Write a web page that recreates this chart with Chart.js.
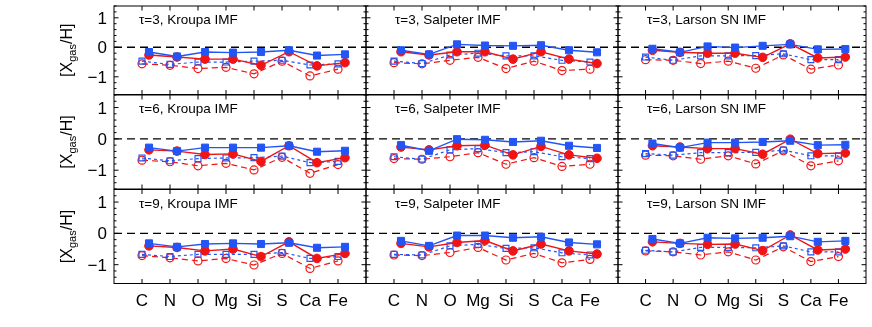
<!DOCTYPE html>
<html><head><meta charset="utf-8">
<script src="https://cdn.jsdelivr.net/npm/chart.js@4"></script>
<style>
html,body{margin:0;padding:0;background:#fff;}
#wrap{position:relative;width:872px;height:327px;overflow:hidden;background:#fff;}
canvas{position:absolute;left:0;top:0;}
</style></head><body><div id="wrap"></div>
<script>
// ---- data ----
const categories = ['C','N','O','Mg','Si','S','Ca','Fe'];
const yTickValues = [-1, 0, 1];
const yTickLabels = ['\u22121', '0', '1'];
const tauValues = [3, 6, 9];
const imfNames = ['Kroupa IMF', 'Salpeter IMF', 'Larson SN IMF'];

// tau = 3
const t3_kroupa_blueSolid   = [-0.16,-0.31,-0.16,-0.18,-0.16,-0.10,-0.28,-0.24];
const t3_kroupa_redSolid    = [-0.26,-0.33,-0.40,-0.40,-0.61,-0.15,-0.63,-0.52];
const t3_kroupa_blueDash    = [-0.47,-0.58,-0.50,-0.50,-0.47,-0.44,-0.60,-0.56];
const t3_kroupa_redDash     = [-0.56,-0.61,-0.72,-0.68,-0.90,-0.47,-0.97,-0.74];
const t3_salpeter_blueSolid = [-0.10,-0.24, 0.10, 0.06, 0.05, 0.07,-0.10,-0.17];
const t3_salpeter_redSolid  = [-0.15,-0.26,-0.15,-0.15,-0.40,-0.15,-0.40,-0.55];
const t3_salpeter_blueDash  = [-0.47,-0.55,-0.26,-0.20,-0.29,-0.29,-0.44,-0.50];
const t3_salpeter_redDash   = [-0.52,-0.56,-0.44,-0.34,-0.72,-0.47,-0.79,-0.74];
const t3_larson_blueSolid   = [-0.05,-0.17, 0.03,-0.01, 0.05, 0.10,-0.07,-0.06];
const t3_larson_redSolid    = [-0.10,-0.17,-0.20,-0.20,-0.34, 0.12,-0.36,-0.33];
const t3_larson_blueDash    = [-0.33,-0.44,-0.29,-0.29,-0.28,-0.22,-0.42,-0.42];
const t3_larson_redDash     = [-0.42,-0.44,-0.55,-0.47,-0.71,-0.26,-0.74,-0.60];
// tau = 6
const t6_kroupa_blueSolid   = [-0.28,-0.39,-0.28,-0.28,-0.28,-0.22,-0.41,-0.38];
const t6_kroupa_redSolid    = [-0.35,-0.39,-0.50,-0.48,-0.72,-0.22,-0.76,-0.60];
const t6_kroupa_blueDash    = [-0.61,-0.70,-0.63,-0.61,-0.60,-0.55,-0.76,-0.72];
const t6_kroupa_redDash     = [-0.68,-0.73,-0.86,-0.78,-0.99,-0.59,-1.10,-0.82];
const t6_salpeter_blueSolid = [-0.20,-0.38,-0.01,-0.03,-0.10,-0.06,-0.22,-0.29];
const t6_salpeter_redSolid  = [-0.26,-0.35,-0.22,-0.20,-0.51,-0.24,-0.51,-0.62];
const t6_salpeter_blueDash  = [-0.57,-0.65,-0.35,-0.31,-0.44,-0.41,-0.57,-0.63];
const t6_salpeter_redDash   = [-0.63,-0.65,-0.57,-0.44,-0.81,-0.60,-0.88,-0.81];
const t6_larson_blueSolid   = [-0.15,-0.28,-0.12,-0.12,-0.10,-0.06,-0.20,-0.19];
const t6_larson_redSolid    = [-0.22,-0.26,-0.31,-0.31,-0.49,-0.01,-0.47,-0.45];
const t6_larson_blueDash    = [-0.47,-0.52,-0.44,-0.44,-0.43,-0.36,-0.54,-0.54];
const t6_larson_redDash     = [-0.52,-0.54,-0.65,-0.54,-0.80,-0.38,-0.86,-0.70];
// tau = 9
const t9_kroupa_blueSolid   = [-0.32,-0.43,-0.34,-0.32,-0.34,-0.30,-0.46,-0.43];
const t9_kroupa_redSolid    = [-0.40,-0.45,-0.56,-0.50,-0.74,-0.27,-0.80,-0.64];
const t9_kroupa_blueDash    = [-0.67,-0.74,-0.67,-0.67,-0.67,-0.61,-0.80,-0.74];
const t9_kroupa_redDash     = [-0.71,-0.78,-0.88,-0.80,-1.01,-0.64,-1.12,-0.88];
const t9_salpeter_blueSolid = [-0.24,-0.40,-0.07,-0.07,-0.14,-0.11,-0.29,-0.35];
const t9_salpeter_redSolid  = [-0.32,-0.43,-0.29,-0.23,-0.56,-0.34,-0.56,-0.66];
const t9_salpeter_blueDash  = [-0.67,-0.69,-0.40,-0.35,-0.48,-0.46,-0.62,-0.69];
const t9_salpeter_redDash   = [-0.69,-0.71,-0.61,-0.45,-0.85,-0.64,-0.94,-0.83];
const t9_larson_blueSolid   = [-0.18,-0.32,-0.14,-0.16,-0.14,-0.09,-0.27,-0.24];
const t9_larson_redSolid    = [-0.27,-0.32,-0.35,-0.34,-0.55,-0.05,-0.53,-0.50];
const t9_larson_blueDash    = [-0.54,-0.59,-0.45,-0.45,-0.46,-0.40,-0.59,-0.59];
const t9_larson_redDash     = [-0.56,-0.59,-0.69,-0.59,-0.85,-0.43,-0.90,-0.74];

const panels = [
  [ [t3_kroupa_blueSolid, t3_kroupa_redSolid, t3_kroupa_blueDash, t3_kroupa_redDash],
    [t3_salpeter_blueSolid, t3_salpeter_redSolid, t3_salpeter_blueDash, t3_salpeter_redDash],
    [t3_larson_blueSolid, t3_larson_redSolid, t3_larson_blueDash, t3_larson_redDash] ],
  [ [t6_kroupa_blueSolid, t6_kroupa_redSolid, t6_kroupa_blueDash, t6_kroupa_redDash],
    [t6_salpeter_blueSolid, t6_salpeter_redSolid, t6_salpeter_blueDash, t6_salpeter_redDash],
    [t6_larson_blueSolid, t6_larson_redSolid, t6_larson_blueDash, t6_larson_redDash] ],
  [ [t9_kroupa_blueSolid, t9_kroupa_redSolid, t9_kroupa_blueDash, t9_kroupa_redDash],
    [t9_salpeter_blueSolid, t9_salpeter_redSolid, t9_salpeter_blueDash, t9_salpeter_redDash],
    [t9_larson_blueSolid, t9_larson_redSolid, t9_larson_blueDash, t9_larson_redDash] ]
];

// ---- layout / style ----
const W = 872, H = 327;
const colLefts = [114, 366, 618];
const colWidth = 252;
const rowTops = [0.5, 95, 189.5];
const rowHeight = 94;
const X_MIN = 0, X_MAX = 9, Y_MIN = -1.6, Y_MAX = 1.4;
const SOLID_SHIFT = 0.25;
const BLUE = 'rgb(35,85,245)';
const RED = 'rgb(240,20,20)';
const FONT = '"Liberation Sans", Arial, Helvetica, sans-serif';
const labelOffsets = [25, 29, 29];

function xy(vals, shift) {
  return vals.map((v, i) => ({ x: i + 1 + shift, y: v }));
}

function panelPlugin(r, c) {
  return {
    id: 'panelDeco' + r + c,
    beforeDatasetsDraw(chart) {
      const ctx = chart.ctx, xs = chart.scales.x, ys = chart.scales.y;
      const y0 = ys.getPixelForValue(0);
      ctx.save();
      ctx.strokeStyle = '#000';
      ctx.lineWidth = 1.4;
      ctx.setLineDash([8, 5]);
      ctx.beginPath();
      ctx.moveTo(xs.getPixelForValue(X_MIN), y0);
      ctx.lineTo(xs.getPixelForValue(X_MAX), y0);
      ctx.stroke();
      ctx.restore();
    },
    afterDraw(chart) {
      const ctx = chart.ctx, xs = chart.scales.x, ys = chart.scales.y;
      const L = xs.getPixelForValue(X_MIN), R = xs.getPixelForValue(X_MAX);
      const T = ys.getPixelForValue(Y_MAX), B = ys.getPixelForValue(Y_MIN);
      ctx.save();
      ctx.strokeStyle = '#000';
      ctx.lineWidth = 1;
      ctx.setLineDash([]);
      ctx.strokeRect(L, T, R - L, B - T);
      ctx.beginPath();
      // y ticks (minor every 0.2, major at integers)
      for (let k = -8; k <= 7; k++) {
        const v = k * 0.2;
        const py = ys.getPixelForValue(v);
        const major = (k % 5 === 0);
        const len = major ? 4.5 : 2.5;
        ctx.moveTo(L, py); ctx.lineTo(L + len, py);
        ctx.moveTo(R, py); ctx.lineTo(R - len, py);
      }
      // x ticks at categories
      categories.forEach((_, i) => {
        const px = xs.getPixelForValue(i + 1);
        ctx.moveTo(px, T); ctx.lineTo(px, T + 4.5);
        ctx.moveTo(px, B); ctx.lineTo(px, B - 4.5);
      });
      ctx.stroke();

      // panel label
      ctx.fillStyle = '#000';
      ctx.font = '13.5px ' + FONT;
      ctx.textAlign = 'left';
      ctx.textBaseline = 'alphabetic';
      ctx.fillText('\u03c4=' + tauValues[r] + ', ' + imfNames[c], L + labelOffsets[c], T + 18);

      // y tick labels + title on left column
      if (c === 0) {
        ctx.font = '17px ' + FONT;
        ctx.textAlign = 'right';
        yTickValues.forEach((v, i) => {
          ctx.fillText(yTickLabels[i], L - 7, ys.getPixelForValue(v) + 6);
        });
        // rotated title [X_gas/H]
        const cy = (T + B) / 2;
        ctx.save();
        ctx.translate(72, cy);
        ctx.rotate(-Math.PI / 2);
        ctx.textAlign = 'left';
        const big = '16px ' + FONT, small = '11px ' + FONT;
        ctx.font = big; const w1 = ctx.measureText('[X').width;
        ctx.font = small; const w2 = ctx.measureText('gas').width;
        ctx.font = big; const w3 = ctx.measureText('/H]').width;
        let x = -(w1 + w2 + w3) / 2;
        ctx.font = big; ctx.fillText('[X', x, 0); x += w1;
        ctx.font = small; ctx.fillText('gas', x, 4); x += w2;
        ctx.font = big; ctx.fillText('/H]', x, 0);
        ctx.restore();
      }
      // category labels on bottom row
      if (r === 2) {
        ctx.font = '17px ' + FONT;
        ctx.textAlign = 'center';
        categories.forEach((lab, i) => {
          ctx.fillText(lab, xs.getPixelForValue(i + 1), B + 22);
        });
      }
      ctx.restore();
    }
  };
}

const wrap = document.getElementById('wrap');
for (let r = 0; r < 3; r++) {
  for (let c = 0; c < 3; c++) {
    const [bS, rS, bD, rD] = panels[r][c];
    const cv = document.createElement('canvas');
    cv.width = W; cv.height = H;
    cv.style.width = W + 'px'; cv.style.height = H + 'px';
    wrap.appendChild(cv);
    const L = colLefts[c], T = rowTops[r];
    new Chart(cv, {
      type: 'line',
      data: {
        datasets: [
          { data: xy(bS, SOLID_SHIFT), borderColor: BLUE, backgroundColor: BLUE,
            borderWidth: 1.4, pointStyle: 'rect', pointRadius: 5, pointBorderWidth: 1,
            pointBackgroundColor: BLUE, pointBorderColor: BLUE },
          { data: xy(rS, SOLID_SHIFT), borderColor: RED, backgroundColor: RED,
            borderWidth: 1.4, pointStyle: 'circle', pointRadius: 4.3, pointBorderWidth: 1,
            pointBackgroundColor: RED, pointBorderColor: RED },
          { data: xy(bD, 0), borderColor: BLUE, backgroundColor: 'rgba(0,0,0,0)',
            borderWidth: 1.2, borderDash: [3, 3], pointStyle: 'rect', pointRadius: 4.2,
            pointBorderWidth: 1.2, pointBackgroundColor: 'rgba(0,0,0,0)', pointBorderColor: BLUE },
          { data: xy(rD, 0), borderColor: RED, backgroundColor: 'rgba(0,0,0,0)',
            borderWidth: 1.2, borderDash: [6, 4], pointStyle: 'circle', pointRadius: 4,
            pointBorderWidth: 1.2, pointBackgroundColor: 'rgba(0,0,0,0)', pointBorderColor: RED }
        ]
      },
      options: {
        responsive: false, animation: false, devicePixelRatio: 1,
        layout: { padding: { left: L, top: T, right: W - L - colWidth, bottom: H - T - rowHeight } },
        scales: {
          x: { type: 'linear', min: X_MIN, max: X_MAX, display: false },
          y: { type: 'linear', min: Y_MIN, max: Y_MAX, display: false }
        },
        plugins: { legend: { display: false }, tooltip: { enabled: false } },
        elements: { line: { tension: 0 } }
      },
      plugins: [panelPlugin(r, c)]
    });
  }
}
</script>
</body></html>
